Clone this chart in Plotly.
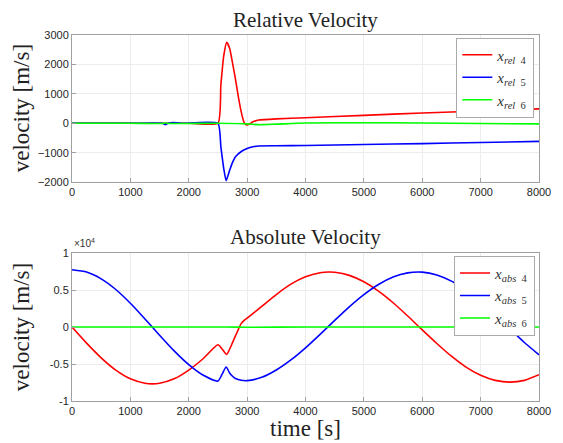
import plotly.graph_objects as go
from plotly.subplots import make_subplots

# ---------------- Relative velocity data (m/s) ----------------
t_rel4 = [0, 1000, 2000, 2500, 2550, 2600, 2650, 2700, 2750, 2800, 2850, 2900, 2950, 3000,
          3050, 3100, 3150, 3200, 3500, 4000, 5000, 6000, 7000, 8000]
v_rel4 = [0, 0, 0, 0, 1300, 2300, 2750, 2550, 2050, 1500, 900, 380, 20, -60,
          -10, 50, 85, 110, 150, 190, 270, 350, 420, 490]

t_rel5 = [0, 1000, 1550, 1580, 1600, 1620, 1650, 1700, 1800, 1900, 2500, 2550, 2600, 2640,
          2700, 2750, 2800, 2900, 3000, 3100, 3200, 3500, 4000, 5000, 6000, 7000, 8000]
v_rel5 = [0, 0, 0, -30, -45, -25, 0, 20, 15, 0, 0, -800, -1550, -1950,
          -1600, -1330, -1140, -960, -860, -800, -770, -765, -755, -720, -690, -655, -615]

t_rel6 = [0, 1000, 1580, 1600, 1620, 2500, 3000, 3200, 3500, 4000, 5000, 6000, 7000, 8000]
v_rel6 = [0, 0, 0, 20, 0, 0, -20, -50, -30, 10, 20, 10, -10, -20]

# ---------------- Absolute velocity data (m/s) ----------------
t_abs4 = [0, 250, 500, 750, 1000, 1250, 1375, 1500, 1750, 2000, 2250, 2500, 2575, 2650,
          2700, 2750, 2800, 2850, 2900, 2950, 3000, 3250, 3500, 3750, 4000, 4250, 4400,
          4500, 4750, 5000, 5250, 5500, 5750, 6000, 6250, 6500, 6750, 7000, 7250, 7500,
          7750, 8000]
v_abs4 = [0, -2170, -4160, -5820, -7000, -7600, -7680, -7600, -7000, -5820, -4250, -2400,
          -3000, -3700, -3000, -2100, -1200, -300, 500, 900, 1200, 2800, 4400, 5800, 6800,
          7350, 7450, 7410, 6990, 6120, 4860, 3290, 1500, -380, -2220, -3940, -5410, -6520,
          -7210, -7450, -7210, -6450]

t_abs5 = [0, 250, 500, 750, 1000, 1250, 1500, 1750, 2000, 2250, 2500, 2570, 2640, 2700,
          2750, 2800, 2900, 3000, 3250, 3500, 3750, 4000, 4250, 4500, 4750, 5000, 5250,
          5500, 5750, 6000, 6250, 6500, 6750, 7000, 7250, 7500, 7750, 8000]
v_abs5 = [7750, 7440, 6520, 5080, 3220, 1100, -1100, -3220, -5080, -6520, -7300, -6400,
          -5400, -6200, -6650, -6950, -7200, -7250, -6800, -5810, -4450, -2810, -980, 910,
          2740, 4390, 5760, 6770, 7330, 7430, 7050, 6210, 4970, 3410, 1630, -230, -2090, -3750]

t_abs6 = [0, 2000, 2650, 3000, 4000, 6000, 8000]
v_abs6 = [0, 0, 0, -20, 0, 0, 0]

# ---------------- Axis ticks ----------------
x_ticks = [0, 1000, 2000, 3000, 4000, 5000, 6000, 7000, 8000]
rel_ticks = [-2000, -1000, 0, 1000, 2000, 3000]
abs_tickvals = [-10000, -5000, 0, 5000, 10000]
abs_ticktext = ["-1", "-0.5", "0", "0.5", "1"]

RED, BLUE, GREEN = "#ff0000", "#0000ff", "#00ff00"
SERIF = "Liberation Serif"
SANS = "Liberation Sans"

fig = make_subplots(rows=2, cols=1)

def lbl(kind, n):
    return f"<i>x</i><sub><i>{kind}</i>  {n}</sub>"

for t, v, c, n in [(t_rel4, v_rel4, RED, 4), (t_rel5, v_rel5, BLUE, 5), (t_rel6, v_rel6, GREEN, 6)]:
    fig.add_trace(go.Scatter(x=t, y=v, mode="lines",
                             line=dict(color=c, width=1.6, shape="spline", smoothing=0.5),
                             name=lbl("rel", n), legend="legend"), row=1, col=1)

for t, v, c, n in [(t_abs4, v_abs4, RED, 4), (t_abs5, v_abs5, BLUE, 5), (t_abs6, v_abs6, GREEN, 6)]:
    fig.add_trace(go.Scatter(x=t, y=v, mode="lines",
                             line=dict(color=c, width=1.6, shape="spline", smoothing=0.6),
                             name=lbl("abs", n), legend="legend2"), row=2, col=1)

axis_common = dict(showline=True, mirror=True, linecolor="#a0a0a0", linewidth=1,
                   ticks="inside", ticklen=4, tickcolor="#a0a0a0",
                   showgrid=True, gridcolor="#ececec", gridwidth=1, zeroline=False,
                   tickfont=dict(family=SANS, size=11, color="#262626"))

fig.update_xaxes(range=[0, 8000], tickvals=x_ticks, **axis_common)
fig.update_yaxes(range=[-2000, 3000], tickvals=rel_ticks, row=1, col=1, **axis_common)
fig.update_yaxes(range=[-10000, 10000], tickvals=abs_tickvals, ticktext=abs_ticktext,
                 row=2, col=1, **axis_common)

fig.update_layout(
    width=555, height=435, autosize=False,
    margin=dict(l=64, r=15, t=27, b=42),
    paper_bgcolor="white", plot_bgcolor="white",
    xaxis=dict(domain=[0, 1]), xaxis2=dict(domain=[0, 1]),
    yaxis=dict(domain=[0.598, 1.0]), yaxis2=dict(domain=[0.0, 0.404]),
    legend=dict(x=0.823, y=0.993, xanchor="left", yanchor="top",
                bgcolor="white", bordercolor="#aaaaaa", borderwidth=1,
                font=dict(family=SERIF, size=15, color="#333333"),
                itemwidth=30, tracegroupgap=0),
    legend2=dict(x=0.818, y=0.397, xanchor="left", yanchor="top",
                 bgcolor="white", bordercolor="#aaaaaa", borderwidth=1,
                 font=dict(family=SERIF, size=15, color="#333333"),
                 itemwidth=30, tracegroupgap=0),
    showlegend=True,
)

ann_font = dict(family=SERIF, size=21, color="#222222")
lab_font = dict(family=SERIF, size=23, color="#222222")
fig.add_annotation(text="Relative Velocity", x=0.5, y=1.04, xref="paper", yref="paper",
                   showarrow=False, xanchor="center", yanchor="middle", font=ann_font)
fig.add_annotation(text="Absolute Velocity", x=0.5, y=0.448, xref="paper", yref="paper",
                   showarrow=False, xanchor="center", yanchor="middle", font=ann_font)
fig.add_annotation(text="velocity [m/s]", x=-0.109, y=0.80, xref="paper", yref="paper",
                   showarrow=False, textangle=-90, xanchor="center", yanchor="middle", font=lab_font)
fig.add_annotation(text="velocity [m/s]", x=-0.109, y=0.202, xref="paper", yref="paper",
                   showarrow=False, textangle=-90, xanchor="center", yanchor="middle", font=lab_font)
fig.add_annotation(text="time [s]", x=0.5, y=-0.074, xref="paper", yref="paper",
                   showarrow=False, xanchor="center", yanchor="middle", font=lab_font)
fig.add_annotation(text="×10<sup>4</sup>", x=0.0, y=0.41, xref="paper", yref="paper",
                   showarrow=False, xanchor="left", yanchor="bottom",
                   font=dict(family=SANS, size=10, color="#333333"))

fig.write_html("out.html")
